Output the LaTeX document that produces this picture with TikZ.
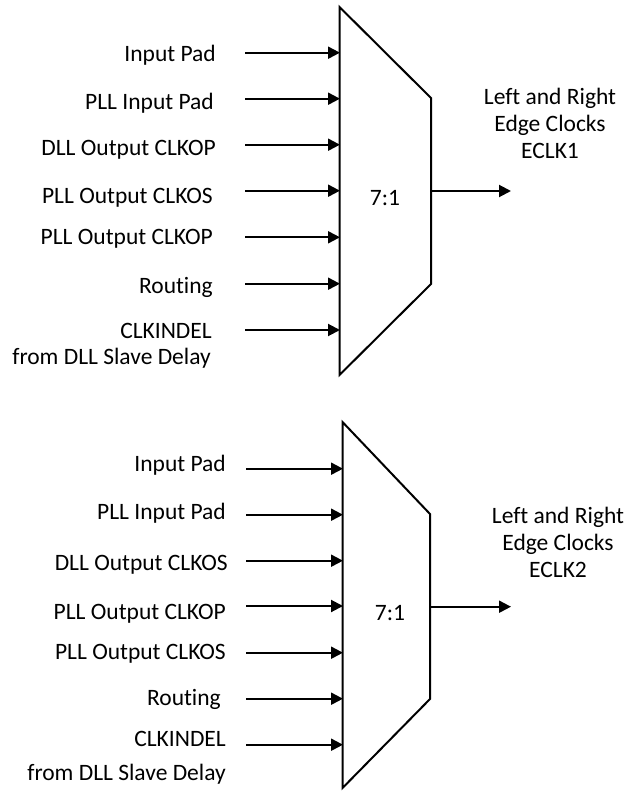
\documentclass[tikz,border=0pt]{standalone}
\usepackage{fontspec}
\setmainfont{Carlito}[Ligatures=NoCommon]
\usetikzlibrary{arrows.meta}
\begin{document}
\begin{tikzpicture}[x=1pt,y=-1pt,
  wire/.style={line width=2pt,-{Triangle[length=12pt,width=12pt]}},
  muxbox/.style={line width=2pt,line join=miter},
  lbl/.style={anchor=base east,inner sep=0pt,font=\fontsize{23.5}{27}\selectfont},
  clbl/.style={anchor=base,inner sep=0pt,font=\fontsize{23.5}{27}\selectfont},
  olbl/.style={anchor=base,inner sep=0pt,align=center,font=\fontsize{23.5}{27}\selectfont}]
\useasboundingbox (0,0) rectangle (629,791);
% ---------- top mux ----------
\draw[muxbox] (339.5,7) -- (431,98) -- (431,284) -- (339.5,375) -- cycle;
\coordinate (m1out) at (431,191);
\coordinate (m1end) at (511,191);
\node[clbl] (m1r) at (385,206) {7:1};
\foreach \y/\n in {52.7/a, 98.7/b, 144.7/c, 190.7/d, 237.3/e, 283.7/f, 330/g}{
  \coordinate (t\n s) at (245,\y);
  \coordinate (t\n e) at (340,\y);
  \draw[wire] (t\n s) -- (t\n e);
}
\node[lbl] (ta) at (216,62) {Input Pad};
\node[lbl] (tb) at (214,110) {PLL Input Pad};
\node[lbl] (tc) at (216,156) {DLL Output CLKOP};
\node[lbl] (td) at (213,204) {PLL Output CLKOS};
\node[lbl] (te) at (213,244) {PLL Output CLKOP};
\node[lbl] (tf) at (213,293) {Routing};
\node[lbl] (tg) at (212,338) {CLKINDEL};
\node[lbl] (th) at (211,364) {from DLL Slave Delay};
\draw[wire] (m1out) -- (m1end);
\node[olbl] (o1) at (550,159) {Left and Right\\Edge Clocks\\ECLK1};
% ---------- bottom mux ----------
\draw[muxbox] (342.5,422) -- (430,514) -- (430,699) -- (342.5,788) -- cycle;
\coordinate (m2out) at (430,606.7);
\coordinate (m2end) at (511,606.7);
\node[clbl] (m2r) at (390,620) {7:1};
\foreach \y/\n in {468.7/a, 514.7/b, 560.7/c, 606/d, 652.7/e, 698.7/f, 744.7/g}{
  \coordinate (b\n s) at (246,\y);
  \coordinate (b\n e) at (343,\y);
  \draw[wire] (b\n s) -- (b\n e);
}
\node[lbl] (ba) at (226,471.7) {Input Pad};
\node[lbl] (bb) at (226,519) {PLL Input Pad};
\node[lbl] (bc) at (228,570) {DLL Output CLKOS};
\node[lbl] (bd) at (226,619) {PLL Output CLKOP};
\node[lbl] (be) at (226,659) {PLL Output CLKOS};
\node[lbl] (bf) at (221,705) {Routing};
\node[lbl] (bg) at (226,746) {CLKINDEL};
\node[lbl] (bh) at (226,780) {from DLL Slave Delay};
\draw[wire] (m2out) -- (m2end);
\node[olbl] (o2) at (558,577) {Left and Right\\Edge Clocks\\ECLK2};
\end{tikzpicture}
\end{document}
